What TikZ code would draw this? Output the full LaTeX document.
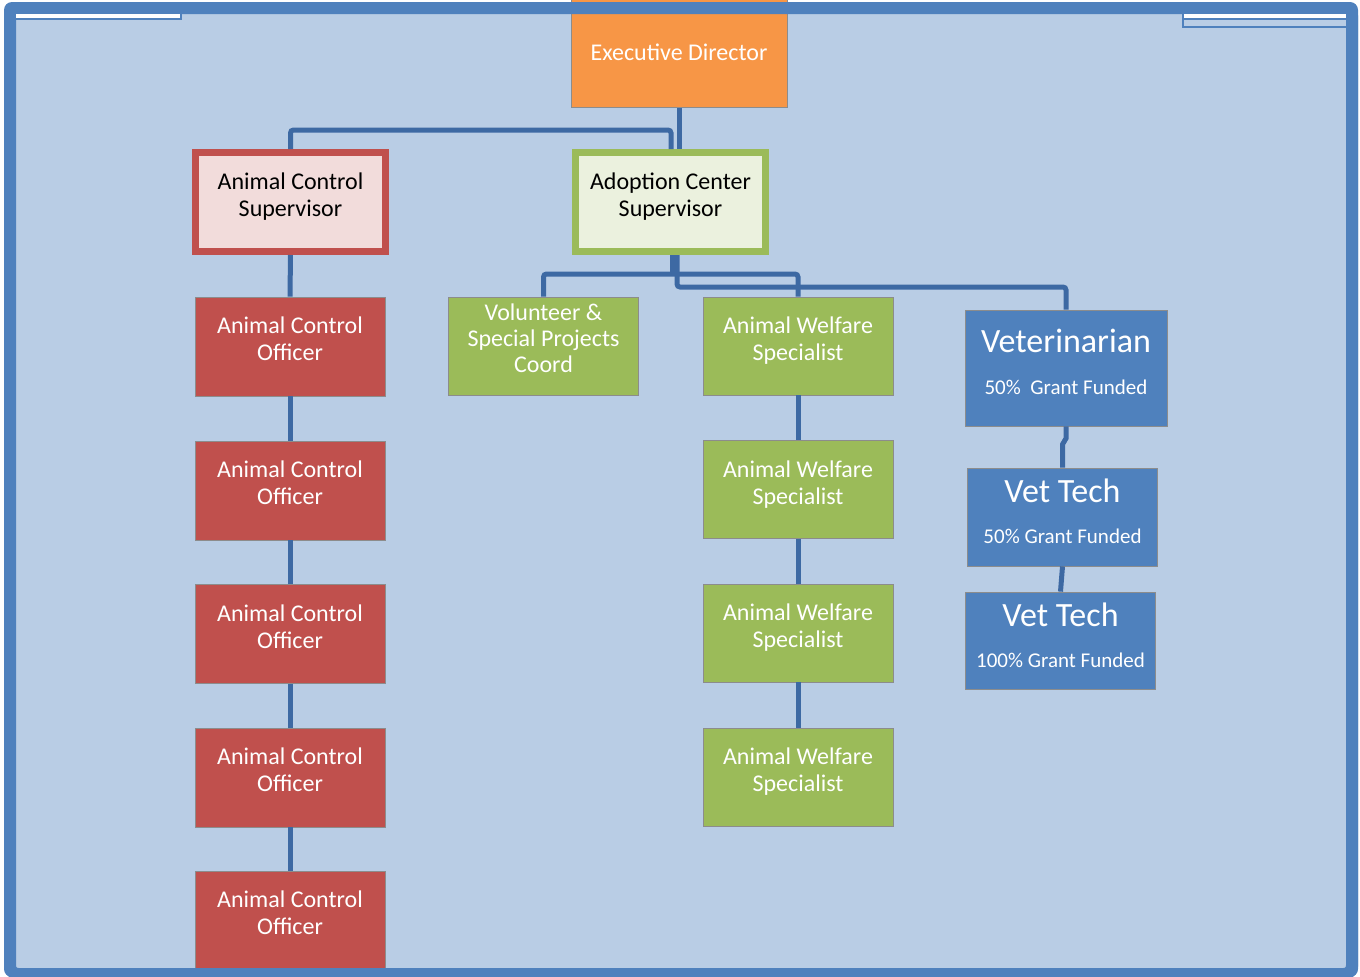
\documentclass[tikz,border=0pt]{standalone}
\usepackage{fontspec}
\setmainfont{Carlito}
\usetikzlibrary{positioning}

\definecolor{framecol}{RGB}{79,129,189}
\definecolor{paper}{RGB}{185,205,229}
\definecolor{edorange}{RGB}{247,150,70}
\definecolor{acred}{RGB}{192,80,77}
\definecolor{acpink}{RGB}{242,220,219}
\definecolor{awgreen}{RGB}{155,187,89}
\definecolor{adpale}{RGB}{235,241,222}
\definecolor{vetblue}{RGB}{79,129,189}
\definecolor{linkcol}{RGB}{61,105,163}

% box text, lifted a little above the middle (extra room below)
\newcommand{\boxlines}[2][14pt]{\parbox{180pt}{\centering #2\par\kern#1}}

\begin{document}
\begin{tikzpicture}[
    x=1pt, y=-1pt,
    link/.style={draw=linkcol, line width=5, rounded corners=3},
    box/.style={rectangle, draw=black!45, line width=0.8, inner sep=0pt,
                text=white, font=\fontsize{24}{27}\selectfont},
    aco/.style={box, fill=acred, minimum width=190, minimum height=99},
    aws/.style={box, fill=awgreen, minimum width=190, minimum height=98},
    sup/.style={box, text=black, line width=7, minimum width=190, minimum height=99},
    vetbox/.style={box, fill=vetblue, minimum width=190, minimum height=98},
]
\useasboundingbox (0,0) rectangle (1360,977);
% page and background
\fill[framecol, rounded corners=8] (4,2) rectangle (1358,977);
\fill[paper] (16,14) rectangle (1346,968);

% top of the tree
\node[box, fill=edorange, minimum width=216, minimum height=111] (ed) at (679,52)
   {Executive Director};
\node[sup, draw=acred, fill=acpink] (acs) at (290.5,202) {\boxlines[10pt]{Animal Control\\Supervisor}};
\node[sup, draw=awgreen, fill=adpale] (adc) at (670.5,202) {\boxlines[10pt]{Adoption Center\\Supervisor}};

% animal control column
\node[aco] (aco1) at (290,346.5) {\boxlines[15pt]{Animal Control\\Officer}};
\node[aco] (aco2) at (290,490.5) {\boxlines[15pt]{Animal Control\\Officer}};
\node[aco] (aco3) at (290,634) {\boxlines[15pt]{Animal Control\\Officer}};
\node[aco] (aco4) at (290,777.5) {\boxlines[15pt]{Animal Control\\Officer}};
\node[aco] (aco5) at (290,920.5) {\boxlines[15pt]{Animal Control\\Officer}};

% adoption center side
\node[aws] (vol) at (543.5,346) {\boxlines[16pt]{\fontsize{24}{26}\selectfont Volunteer \&\\Special Projects\\Coord}};
\node[aws] (aws1) at (798,346) {\boxlines[10pt]{Animal Welfare\\Specialist}};
\node[aws] (aws2) at (798,489.5) {\boxlines[10pt]{Animal Welfare\\Specialist}};
\node[aws] (aws3) at (798,633) {\boxlines[10pt]{Animal Welfare\\Specialist}};
\node[aws] (aws4) at (798,777) {\boxlines[10pt]{Animal Welfare\\Specialist}};

% vet staff
\node[vetbox, minimum width=202, minimum height=116] (vet) at (1066,368)
   {\boxlines[12pt]{{\fontsize{34}{38}\selectfont Veterinarian}\\[17pt]\fontsize{21}{25}\selectfont 50\%~~Grant Funded}};
\node[vetbox] (vt1) at (1062.5,517)
   {\boxlines[12pt]{{\fontsize{34}{38}\selectfont Vet Tech}\\[16pt]\fontsize{21}{25}\selectfont 50\% Grant Funded}};
\node[vetbox, minimum height=97] (vt2) at (1060.5,640.5)
   {\boxlines[10pt]{{\fontsize{34}{38}\selectfont Vet Tech}\\[16pt]\fontsize{21}{25}\selectfont 100\% Grant Funded}};

% bus lines
\coordinate (busTop) at (0,130);
\coordinate (busA) at (0,274);
\coordinate (busB) at (0,287);

\draw[link] (ed.south) -- (ed.south |- adc.north);
\draw[link] (acs.north) |- ([xshift=-8]ed.south |- busTop) -- ([xshift=-8]ed.south |- adc.north);
\draw[link] ([xshift=1.5]adc.south) -- ([xshift=1.5]adc.south |- busA);
\draw[link] (vol.north) |- (aws1.north |- busA) -- (aws1.north);
\draw[link] ([xshift=6.5]adc.south) |- (vet.north |- busB) -- (vet.north);
\foreach \a/\b in {acs/aco1, aco1/aco2, aco2/aco3, aco3/aco4, aco4/aco5,
                   aws1/aws2, aws2/aws3, aws3/aws4}
  \draw[link] (\a) -- (\b);
\draw[link, rounded corners=0] (vet.south) -- ++(0,12) -- ++(-3.5,6) -- (vt1.north);
\draw[link] (vt1.south) -- (vt2.north);

% frame on top
\draw[framecol, line width=12, rounded corners=8] (10,8) -- (1352,8) -- (1352,974) -- (10,974) -- cycle;
\fill[white] (16,14) rectangle (180,17.5);
\draw[framecol, line width=2] (16,19) -- (180.5,19) -- (180.5,14);
\fill[white] (1183,14) rectangle (1346,17.5);
\draw[framecol, line width=2] (1183,19) -- (1346,19);
\draw[framecol, line width=2] (1183,14) -- (1183,27) -- (1346,27);
\end{tikzpicture}
\end{document}
